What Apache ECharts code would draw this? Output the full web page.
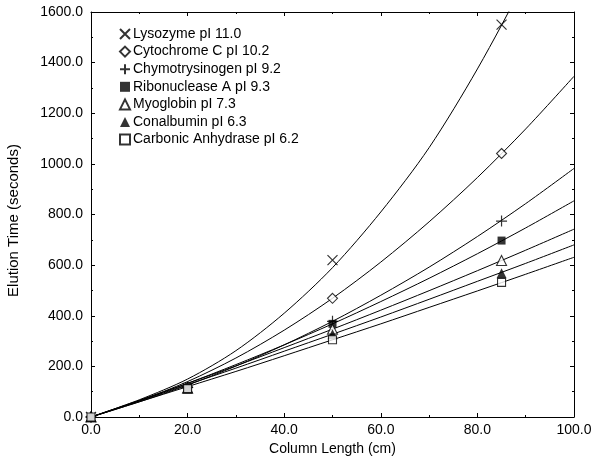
<!DOCTYPE html>
<html>
<head>
<meta charset="utf-8">
<script src="https://cdn.jsdelivr.net/npm/echarts@6/dist/echarts.min.js"></script>
<style>
html, body { margin: 0; padding: 0; background: #fff; }
#chart { width: 592px; height: 457px; }
</style>
</head>
<body>
<div id="chart"></div>
<script>
// measured points
var xPts = [0, 20, 50, 85];
var lysozyme = [0, 115, 620, 1550];
var cytochrome = [0, 118, 469, 1041];
var chymo = [0, 117, 378, 774];
var ribo = [0, 116, 368, 697];
var myoglobin = [0, 114, 347, 618];
var conalbumin = [0, 113, 327, 568];
var carbonic = [0, 112, 305, 532];

// fitted curves
var curveX = [0, 10, 20, 30, 40, 50, 60, 70, 80, 90, 100];
var lysozymeFit = [0, 68, 150, 262, 410, 590, 810, 1064, 1375, 1730, 2120];
var cytochromeFit = [0, 64, 140, 233, 343, 469, 612, 771, 946, 1138, 1346];
var chymoFit = [0, 60, 126, 201, 285, 378, 481, 592, 713, 843, 982];
var riboFit = [0, 64, 133, 207, 285, 368, 456, 548, 645, 747, 854];
var myoglobinFit = [0, 66, 133, 202, 274, 347, 422, 499, 578, 659, 742];
var conalbuminFit = [0, 63, 128, 193, 260, 327, 395, 465, 536, 607, 680];
var carbonicFit = [0, 60, 120, 180, 242, 305, 368, 433, 498, 564, 631];

var names = ['Lysozyme pI 11.0', 'Cytochrome C pI 10.2', 'Chymotrysinogen pI 9.2',
    'Ribonuclease A pI 9.3', 'Myoglobin pI 7.3', 'Conalbumin pI 6.3', 'Carbonic Anhydrase pI 6.2'];
var pts = [lysozyme, cytochrome, chymo, ribo, myoglobin, conalbumin, carbonic];
var fits = [lysozymeFit, cytochromeFit, chymoFit, riboFit, myoglobinFit, conalbuminFit, carbonicFit];

var open = { color: '#fff', borderColor: '#000', borderWidth: 1.1 };
var solid = { color: '#000', borderColor: '#000', borderWidth: 0 };
var stroke = { color: 'transparent', borderColor: '#000', borderWidth: 1.2 };
var marks = [
    { symbol: 'path://M0,0L10,10M10,0L0,10', size: 10, style: stroke },
    { symbol: 'diamond', size: 10, style: open },
    { symbol: 'path://M5,0L5,10M0,5L10,5', size: 11, style: stroke },
    { symbol: 'rect', size: 8, style: solid },
    { symbol: 'triangle', size: 10, style: open },
    { symbol: 'triangle', size: 10, style: solid },
    { symbol: 'rect', size: 8, style: open }
];

function pairs(xs, ys) {
    return xs.map(function(x, i){ return [x, ys[i]]; });
}

var series = [];
fits.forEach(function(f, i){
    series.push({
        id: 'fit' + i,
        type: 'line',
        data: pairs(curveX, f),
        smooth: 0.3,
        showSymbol: false,
        symbol: 'none',
        silent: true,
        clip: true,
        lineStyle: { color: '#000', width: 1 },
        z: 2
    });
});
pts.forEach(function(p, i){
    series.push({
        name: names[i],
        type: 'scatter',
        data: pairs(xPts, p),
        symbol: marks[i].symbol,
        symbolSize: marks[i].size,
        itemStyle: marks[i].style,
        z: 5
    });
});

var font = 'Liberation Sans, Arial, sans-serif';
var tickStyle = { show: true, inside: true, length: 4, lineStyle: { color: '#000' } };
var minorStyle = { show: true, splitNumber: 2, length: 2, lineStyle: { color: '#000' } };
var lineStyle = { show: true, onZero: false, lineStyle: { color: '#000', width: 1 } };

var myChart = echarts.init(document.getElementById('chart'));
var option = {
    animation: false,
    grid: { left: 91, right: 18, top: 12, bottom: 40, containLabel: false, outerBoundsMode: 'none' },
    legend: {
        data: names,
        orient: 'vertical',
        left: 119,
        top: 27,
        padding: 0,
        itemWidth: 10,
        itemHeight: 10,
        itemGap: 3.6,
        textStyle: { fontFamily: font, fontSize: 14, lineHeight: 14, color: '#000', padding: [0, 0, 0, -2] }
    },
    xAxis: [{
        type: 'value', min: 0, max: 100, interval: 20,
        name: 'Column Length (cm)', nameLocation: 'middle', nameGap: 25,
        nameTextStyle: { fontFamily: font, fontSize: 14, color: '#000' },
        axisLine: lineStyle, axisTick: tickStyle, minorTick: minorStyle,
        splitLine: { show: false },
        axisLabel: { fontFamily: font, fontSize: 14, color: '#000', margin: 6,
            formatter: function(v){ return v.toFixed(1); } }
    }, {
        type: 'value', min: 0, max: 100, interval: 20, position: 'top',
        axisLine: lineStyle, axisTick: tickStyle, minorTick: minorStyle,
        splitLine: { show: false }, axisLabel: { show: false }
    }],
    yAxis: [{
        type: 'value', min: 0, max: 1600, interval: 200,
        name: 'Elution Time (seconds)', nameLocation: 'middle', nameGap: 70,
        nameTextStyle: { fontFamily: font, fontSize: 15, color: '#000', padding: [0, 12, 0, 0] },
        axisLine: lineStyle, axisTick: tickStyle, minorTick: minorStyle,
        splitLine: { show: false },
        axisLabel: { fontFamily: font, fontSize: 14, color: '#000', margin: 8,
            formatter: function(v){ return v.toFixed(1); } }
    }, {
        type: 'value', min: 0, max: 1600, interval: 200, position: 'right',
        axisLine: lineStyle, axisTick: tickStyle, minorTick: minorStyle,
        splitLine: { show: false }, axisLabel: { show: false }
    }],
    series: series
};
myChart.setOption(option);
</script>
</body>
</html>
